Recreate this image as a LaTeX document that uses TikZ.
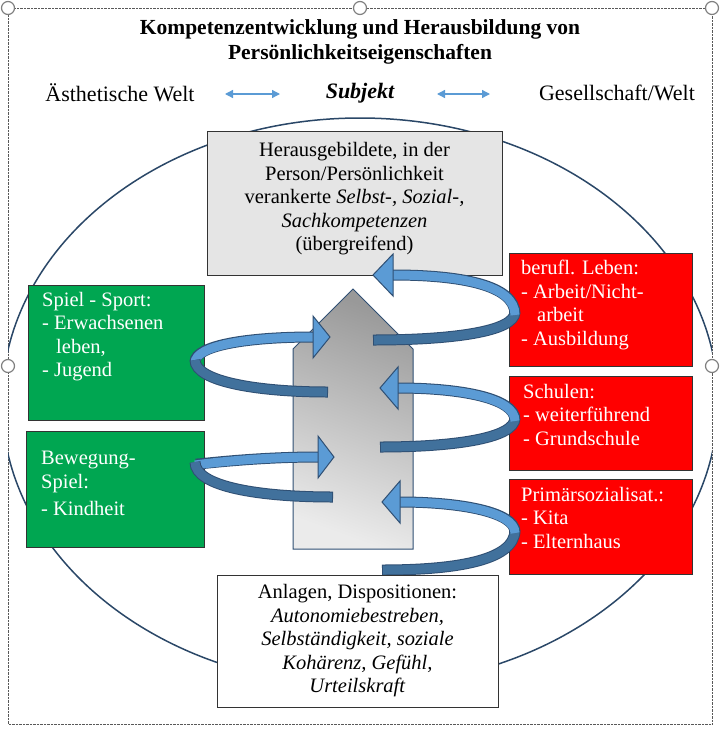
\documentclass[tikz,border=0pt]{standalone}
\usepackage{fontspec}
\setmainfont{Liberation Serif}
\usetikzlibrary{arrows.meta}
\definecolor{gr}{HTML}{00A651}
\definecolor{rd}{HTML}{FF0000}
\definecolor{bl}{HTML}{5B9BD5}
\definecolor{bd}{HTML}{41719C}
\definecolor{bo}{HTML}{2F4F73}
\begin{document}
\begin{tikzpicture}[x=1pt,y=-1pt,
  txt/.style={font=\fontsize{20.5}{23.5}\selectfont},
  box/.style={draw=black!80,line width=0.8},
  lt/.style={txt,text=white,align=left,anchor=north west,inner sep=0},
  band/.style={line width=11,draw=bo},
  bandin/.style={line width=9},
  hd/.style={fill=bl,draw=bo,line width=1},
  handle/.style={circle,draw=gray,fill=white,line width=1.2,inner sep=0,minimum size=13}]
\useasboundingbox (0,0) rectangle (720,734);
\draw[densely dotted,gray!70!black] (8,8) rectangle (712,724);
\begin{scope}
\clip (8,8) rectangle (712,724);
\draw[color=bo!90!black,line width=1.5] (360,402) ellipse [x radius=358,y radius=284];
\end{scope}
% title
\node[font=\bfseries\fontsize{21.5}{25}\selectfont,align=center] (title) at (360,42) {Kompetenzentwicklung und Herausbildung von\\Persönlichkeitseigenschaften};
\node[font=\fontsize{22}{24}\selectfont] (aw) at (120,93) {Ästhetische Welt};
\node[font=\bfseries\itshape\fontsize{22}{24}\selectfont] (su) at (360,93) {Subjekt};
\node[font=\fontsize{22}{24}\selectfont] (gw) at (617,93) {Gesellschaft/Welt};
\coordinate (a1) at (225,94); \coordinate (a2) at (280,94);
\coordinate (a3) at (437,94); \coordinate (a4) at (490,94);
\draw[{Triangle[width=8,length=8]}-{Triangle[width=8,length=8]},bl,line width=1.3] (a1) -- (a2);
\draw[{Triangle[width=8,length=8]}-{Triangle[width=8,length=8]},bl,line width=1.3] (a3) -- (a4);
% top box
\draw[box,fill=black!10] (207,131) rectangle (502,275);
\node[txt,align=center] (top) at (354.5,199) {Herausgebildete, in der\\Person/Persönlichkeit\\verankerte \textit{Selbst-, Sozial-,}\\\textit{Sachkompetenzen}\\(übergreifend)};
% center arrow
\shade[top color=black!40,bottom color=black!8,shading angle=-20,draw=bo,line width=1] (353,289) -- (413,349) -- (413,549) -- (293,549) -- (293,349) -- cycle;
\node (ctr) at (353,450) {};
% left boxes
\draw[box,fill=gr] (28,285) rectangle (204,420);
\node[lt] (g1) at (42,292) {Spiel - Sport:\\- Erwachsenen\\\hspace{14pt}leben,\\- Jugend};
\draw[box,fill=gr] (26,431) rectangle (204,547);
\node[lt] (g2) at (41,451) {Bewegung-\\Spiel:\\[4pt]- Kindheit};
% right boxes
\draw[box,fill=rd] (509,253) rectangle (692,366);
\node[lt] (r1) at (521,260) {berufl. Leben:\\- Arbeit/Nicht-\\\hspace{16pt}arbeit\\- Ausbildung};
\draw[box,fill=rd] (509,376) rectangle (692,470);
\node[lt] (r2) at (523,384) {Schulen:\\- weiterführend\\- Grundschule};
\draw[box,fill=rd] (509,479) rectangle (692,574);
\node[lt] (r3) at (521,487) {Primärsozialisat.:\\- Kita\\- Elternhaus};
% spirals
\foreach \yl/\yf/\yh/\xi/\xh/\xt in {340/312/275/373/393/373, 447/418/388/380/398/380, 570/530/502/382/400/382}{
  \draw[band] (\xi,\yl) .. controls (450,\yl) and (515,\yl-8) .. (515,\yf);
  \draw[bandin,bd] (\xi+1,\yl) .. controls (450,\yl) and (515,\yl-8) .. (515,\yf);
  \draw[band] (515,\yf+2) .. controls (515,\yh+10) and (460,\yh) .. (\xh,\yh);
  \draw[bandin,bl] (515,\yf+3) .. controls (515,\yh+10) and (460,\yh) .. (\xh-1,\yh);
  \draw[hd] (\xt,\yh) -- (\xh,\yh-21) -- (\xh,\yh+21) -- cycle;
}
\foreach \yl/\yf/\yh/\xi/\xh/\xt in {392/360/337/328/313/330, 497/462/457/333/318/334}{
  \draw[band] (195,\yf+2) .. controls (195,\yh+8) and (250,\yh) .. (\xh,\yh);
  \draw[bandin,bl] (195,\yf+3) .. controls (195,\yh+8) and (250,\yh) .. (\xh+1,\yh);
  \draw[hd] (\xt,\yh) -- (\xh,\yh-21) -- (\xh,\yh+21) -- cycle;
  \draw[band] (\xi,\yl) .. controls (260,\yl) and (195,\yl-10) .. (195,\yf);
  \draw[bandin,bd] (\xi-1,\yl) .. controls (260,\yl) and (195,\yl-10) .. (195,\yf);
}
% bottom box
\draw[box,fill=white] (217,575) rectangle (498,707);
\node[txt,align=center] (bot) at (357.5,641) {Anlagen, Dispositionen:\\\textit{Autonomiebestreben,}\\\textit{Selbständigkeit, soziale}\\\textit{Kohärenz, Gefühl,}\\\textit{Urteilskraft}};
% handles
\foreach \n/\p in {h1/{(8,8)},h2/{(360,8)},h3/{(712,8)},h4/{(8,366)},h5/{(712,366)}}
  \node[handle] (\n) at \p {};
\end{tikzpicture}
\end{document}
